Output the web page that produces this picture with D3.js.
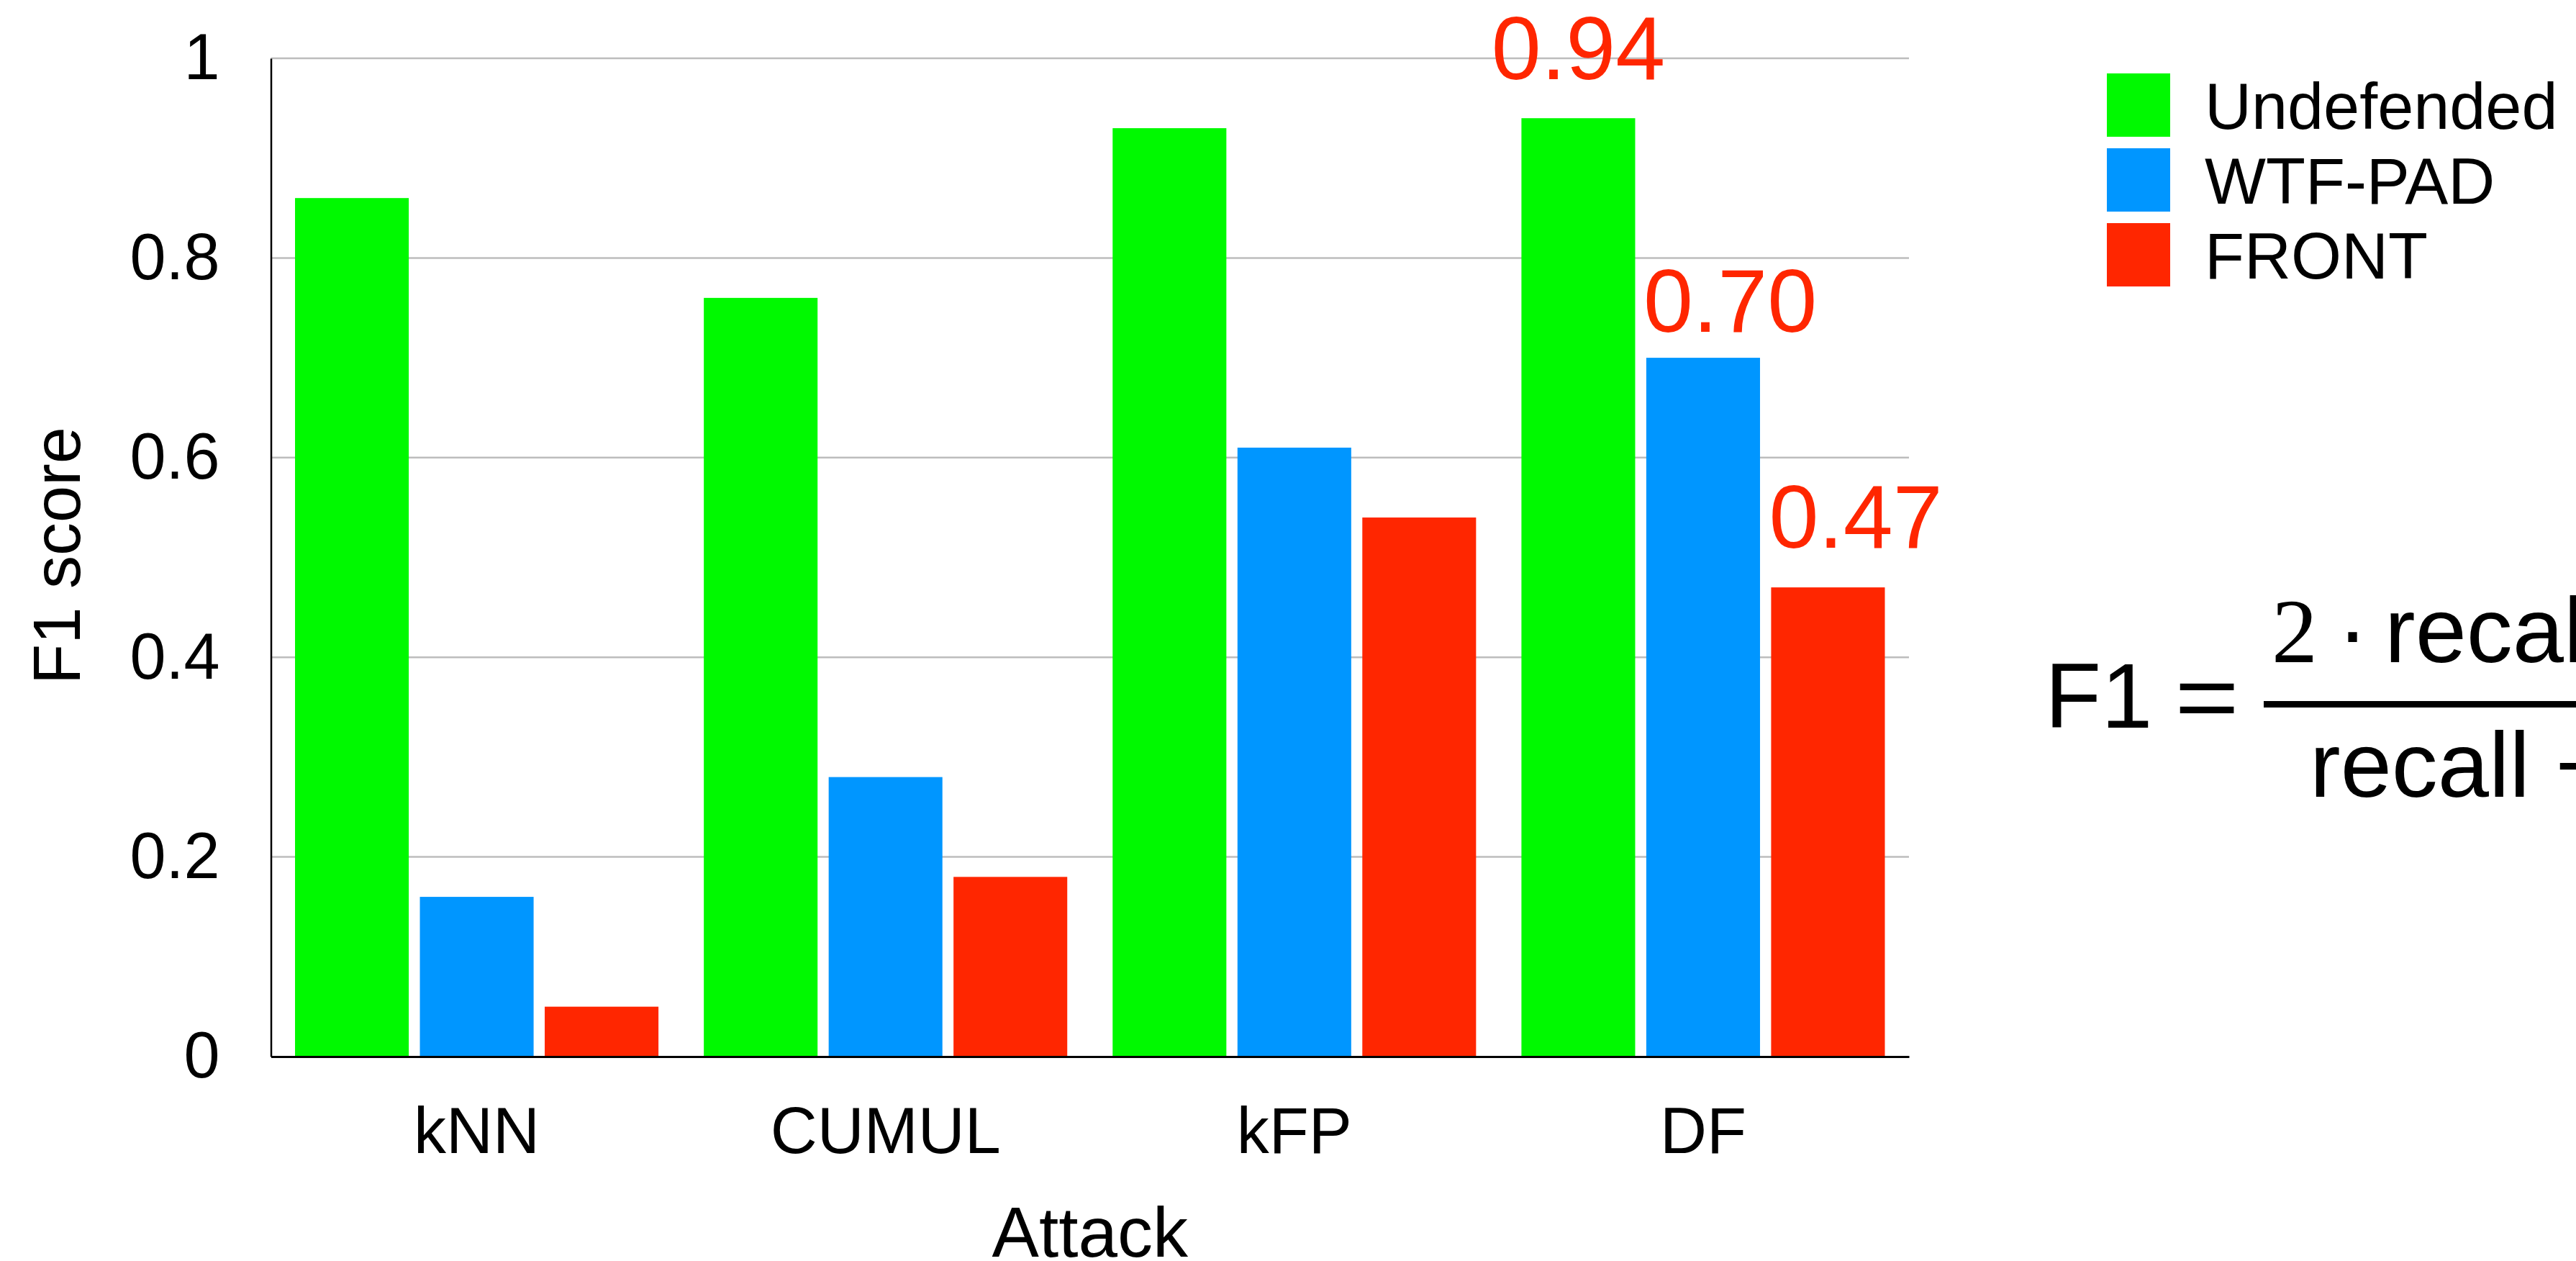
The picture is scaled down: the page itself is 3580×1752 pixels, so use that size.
<!DOCTYPE html>
<html>
<head>
<meta charset="utf-8">
<script src="https://cdn.jsdelivr.net/npm/d3@7"></script>
<style>
  html, body { margin: 0; padding: 0; background: #fff; overflow: hidden; }
  svg { display: block; font-family: "Liberation Sans", Arial, Helvetica, sans-serif; }
</style>
</head>
<body>
<svg id="chart" width="3580" height="1752"></svg>
<script>
// ---- data ----
const categories = ["kNN", "CUMUL", "kFP", "DF"];
const seriesNames = ["Undefended", "WTF-PAD", "FRONT"];
const undefended = [0.86, 0.76, 0.93, 0.94];
const wtfpad     = [0.16, 0.28, 0.61, 0.70];
const front      = [0.05, 0.18, 0.54, 0.47];
const yTicks = [0, 0.2, 0.4, 0.6, 0.8, 1];
const yTickLabels = ["0", "0.2", "0.4", "0.6", "0.8", "1"];
const annCategory = "DF";
const annSeries = ["Undefended", "WTF-PAD", "FRONT"];
const annText = ["0.94", "0.70", "0.47"];
const colors = ["#00F900", "#0096FF", "#FF2600"];

const seriesValues = [undefended, wtfpad, front];

(function () {
// ---- layout ----
const svg = d3.select("#chart");
const pLeft = 376.5, pRight = 2653, pTop = 81, pBottom = 1468;

const x0 = d3.scaleBand().domain(categories).range([pLeft, pRight])
  .paddingInner(0.111).paddingOuter(0.059);
const x1 = d3.scaleBand().domain(seriesNames).range([0, x0.bandwidth()])
  .paddingInner(0.089).paddingOuter(0);
const y = d3.scaleLinear().domain([0, 1]).range([pBottom, pTop]);
const color = d3.scaleOrdinal().domain(seriesNames).range(colors);

// gridlines
svg.append("g").selectAll("line").data(yTicks.filter(d => d > 0)).join("line")
  .attr("x1", pLeft).attr("x2", pRight)
  .attr("y1", d => y(d)).attr("y2", d => y(d))
  .attr("stroke", "#bdbdbd").attr("stroke-width", 2.5);

// bars
const rows = [];
categories.forEach((c, i) => seriesNames.forEach((s, j) => rows.push({c, s, v: seriesValues[j][i]})));
svg.append("g").selectAll("rect").data(rows).join("rect")
  .attr("x", d => x0(d.c) + x1(d.s))
  .attr("width", x1.bandwidth())
  .attr("y", d => y(d.v))
  .attr("height", d => y(0) - y(d.v))
  .attr("fill", d => color(d.s));

// y axis
const yAxis = svg.append("g").attr("transform", `translate(${pLeft},0)`)
  .call(d3.axisLeft(y).tickValues(yTicks)
    .tickFormat((d, i) => yTickLabels[i]).tickSize(0).tickPadding(71));
yAxis.select(".domain").attr("stroke", "#000").attr("stroke-width", 2.5);
yAxis.selectAll("text").attr("font-size", 90).attr("fill", "#000")
  .attr("font-family", "'Liberation Sans', Arial, sans-serif");

// x axis
const xAxis = svg.append("g").attr("transform", `translate(0,${pBottom})`)
  .call(d3.axisBottom(x0).tickSize(0).tickPadding(70));
xAxis.select(".domain").attr("stroke", "#000").attr("stroke-width", 3);
xAxis.selectAll("text").attr("font-size", 90).attr("fill", "#000")
  .attr("font-family", "'Liberation Sans', Arial, sans-serif");

// axis titles
svg.append("text").attr("transform", "translate(111,772) rotate(-90)")
  .attr("text-anchor", "middle").attr("font-size", 92).text("F1 score");
svg.append("text").attr("x", (pLeft + pRight) / 2).attr("y", 1746)
  .attr("text-anchor", "middle").attr("font-size", 98).text("Attack");

// annotations
const annAnchor = ["middle", "start", "start"];
const annGap = [54, 36, 55];
const annDx = [0, -4, -3];
annSeries.forEach((s, k) => {
  const j = seriesNames.indexOf(s);
  const i = categories.indexOf(annCategory);
  const v = seriesValues[j][i];
  const bx = x0(annCategory) + x1(s);
  svg.append("text")
    .attr("x", (annAnchor[k] === "middle" ? bx + x1.bandwidth() / 2 : bx) + annDx[k])
    .attr("y", y(v) - annGap[k])
    .attr("text-anchor", annAnchor[k])
    .attr("font-size", 124).attr("fill", colors[2])
    .text(annText[k]);
});

// legend
const legend = svg.append("g");
seriesNames.forEach((s, j) => {
  const cy = 146 + j * 104;
  legend.append("rect").attr("x", 2928).attr("y", cy - 44)
    .attr("width", 88).attr("height", 88).attr("fill", color(s));
  legend.append("text").attr("x", 3064).attr("y", cy + 33)
    .attr("font-size", 90).text(s);
});

// formula
const f = svg.append("g");
f.append("text").attr("x", 2842).attr("y", 1011).attr("font-size", 128).text("F1");
f.append("text").attr("x", 3067).attr("y", 1013).attr("text-anchor", "middle")
  .attr("font-size", 128).attr("transform", "translate(3067,0) scale(1.2,1) translate(-3067,0)").text("=");
f.append("line").attr("x1", 3146).attr("x2", 3700).attr("y1", 978.5).attr("y2", 978.5)
  .attr("stroke", "#000").attr("stroke-width", 9);
f.append("text").attr("x", 3157).attr("y", 920).attr("font-size", 128)
  .attr("font-family", "'Liberation Serif', 'Times New Roman', serif").text("2");
f.append("text").attr("x", 3269.5).attr("y", 920).attr("text-anchor", "middle")
  .attr("font-size", 128).text("·");
f.append("text").attr("x", 3314).attr("y", 920).attr("font-size", 128).text("recall · precision");
f.append("text").attr("x", 3210).attr("y", 1107).attr("font-size", 128).text("recall + precision");
})();
</script>
</body>
</html>
